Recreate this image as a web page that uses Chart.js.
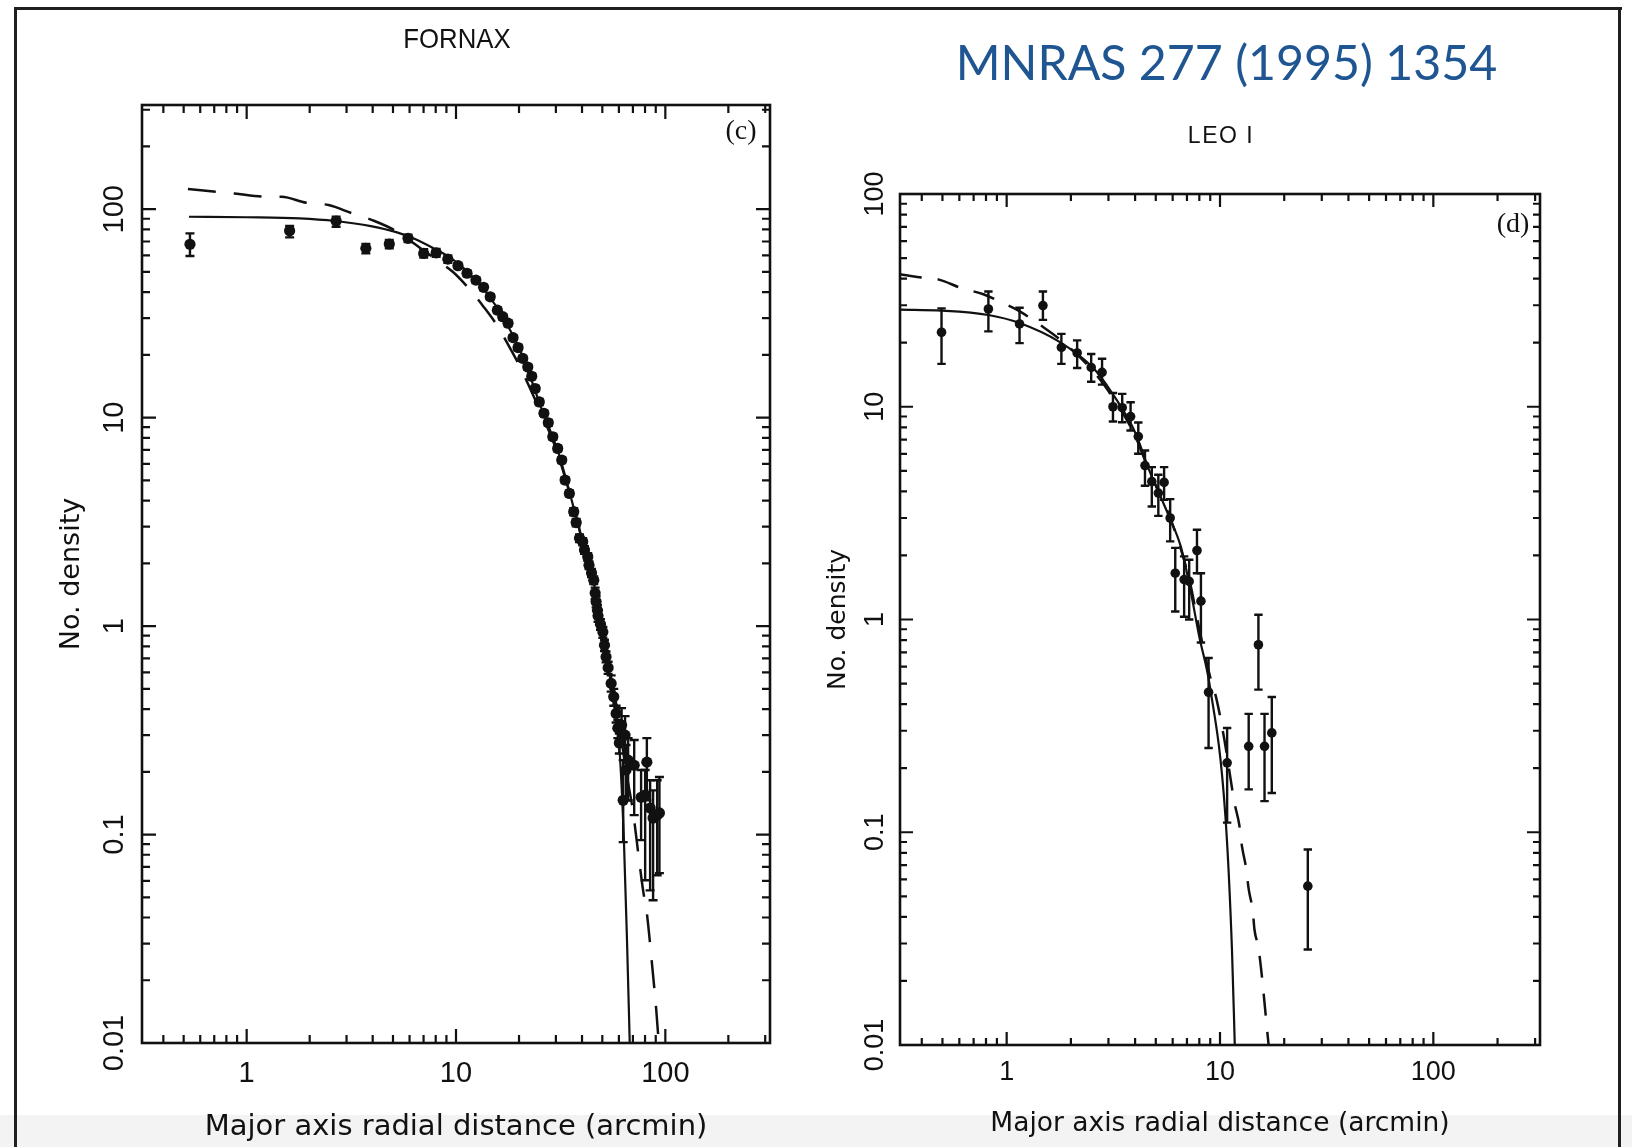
<!DOCTYPE html>
<html>
<head>
<meta charset="utf-8">
<script src="https://cdn.jsdelivr.net/npm/chart.js@4.4.1/dist/chart.umd.min.js"></script>
<style>
  html, body { margin: 0; padding: 0; background: #ffffff; }
  #page { position: relative; width: 1632px; height: 1147px; overflow: hidden; background: #ffffff; }
  #band { position: absolute; left: 0; top: 1115px; width: 1632px; height: 32px; background: #f3f3f3; }
  .fr { position: absolute; background: #202020; }
  canvas { position: absolute; top: 0; }
</style>
</head>
<body>
<div id="page">
  <div id="band"></div>
  <div class="fr" style="left:14px;top:7px;width:1608px;height:3px;"></div>
  <div class="fr" style="left:14px;top:7px;width:3px;height:1140px;"></div>
  <div class="fr" style="left:1618px;top:7px;width:3px;height:1140px;"></div>
  <canvas id="cF" width="816" height="1147" style="left:0px;width:816px;height:1147px;"></canvas>
  <canvas id="cL" width="816" height="1147" style="left:816px;width:816px;height:1147px;"></canvas>
</div>
<script>
// ---------------- DATA ----------------
// FORNAX (panel c): radius (arcmin), number density, error bar low/high
const fornaxR  = [0.536, 1.604, 2.675, 3.71, 4.80, 5.90, 7.01, 8.04, 9.14,
  10.22, 11.29, 12.45, 13.54, 14.57, 15.76, 16.72, 17.73, 18.73, 19.79, 20.84, 22.02, 23.0, 23.9, 25.0,
  26.3, 27.6, 29.0, 30.6, 32.0, 33.2, 34.8, 36.5, 37.5, 38.9, 40.3, 41.1, 42.6, 43.2, 44.4, 45.5,
  46.2, 46.7, 47.4, 47.7, 49.0, 50.3, 51.2, 52.1, 53.3, 55.1, 56.7, 58.2, 59.3, 60.3,
  61.8, 64.2, 62.9, 64.9, 66.4, 71.0, 76.6, 80.1, 81.6, 84.6, 87.4, 91.4, 93.7];
const fornaxD  = [67.9, 78.8, 87.8, 64.9, 68.1, 72.5, 61.4, 61.8, 57.6,
  53.6, 49.3, 45.7, 42.2, 38.0, 32.8, 30.5, 28.4, 24.2, 21.7, 19.25, 17.5, 15.8, 13.8, 11.9,
  10.5, 9.45, 8.1, 7.12, 6.26, 5.02, 4.33, 3.54, 3.14, 2.64, 2.54, 2.32, 2.15, 1.96, 1.80, 1.66,
  1.44, 1.31, 1.19, 1.12, 1.02, 0.936, 0.81, 0.712, 0.632, 0.531, 0.458, 0.381, 0.324, 0.275,
  0.335, 0.300, 0.146, 0.204, 0.2275, 0.215, 0.151, 0.1545, 0.2225, 0.134, 0.120, 0.124, 0.127];
const fornaxLo = [59.6, 73.3, 82.4, 61.4, 65.0, 69.5, 58.6, 59.2, 55.3,
  52.0, 47.8, 44.3, 40.9, 36.9, 31.8, 29.6, 27.5, 23.5, 21.0, 18.7, 17.0, 15.3, 13.4, 11.5,
  10.2, 9.15, 7.85, 6.9, 6.06, 4.86, 4.19, 3.40, 3.01, 2.53, 2.44, 2.22, 2.06, 1.88, 1.72, 1.59,
  1.35, 1.23, 1.12, 1.05, 0.96, 0.88, 0.76, 0.67, 0.59, 0.485, 0.415, 0.345, 0.29, 0.245,
  0.269, 0.2275, 0.092, 0.146, 0.146, 0.124, 0.094, 0.0604, 0.146, 0.054, 0.0484, 0.0638, 0.0653];
const fornaxHi = [76.6, 83.1, 92.1, 68.1, 71.3, 75.5, 64.3, 64.4, 60.0,
  55.2, 50.8, 47.1, 43.5, 39.1, 33.8, 31.4, 29.3, 24.9, 22.4, 19.8, 18.0, 16.3, 14.2, 12.3,
  10.8, 9.75, 8.35, 7.35, 6.46, 5.18, 4.47, 3.68, 3.27, 2.75, 2.64, 2.42, 2.24, 2.04, 1.88, 1.73,
  1.53, 1.39, 1.26, 1.19, 1.08, 0.99, 0.86, 0.755, 0.675, 0.58, 0.50, 0.415, 0.355, 0.305,
  0.404, 0.370, 0.2275, 0.269, 0.290, 0.284, 0.204, 0.204, 0.290, 0.1823, 0.163, 0.1823, 0.189];
// FORNAX model curves
const fornaxKingR = [0.53, 1.0, 1.79, 2.65, 3.92, 5.27, 6.41, 7.81, 9.5, 11.57, 14.07, 17.1, 20.85,
  25.4, 30.9, 35.0, 40.0, 45.0, 50.0, 55.0, 58.0, 60.5, 63.4, 65.6, 67.6];
const fornaxKingD = [92, 91.5, 90.4, 87.8, 83.0, 77.2, 71.7, 64.9, 58.1, 49.3, 39.5, 29.4, 19.6,
  11.3, 6.74, 4.33, 2.6, 1.7, 0.98, 0.53, 0.36, 0.25, 0.094, 0.031, 0.01];
const fornaxDashR = [0.524, 0.876, 1.207, 1.47, 1.925, 2.46, 3.19, 4.08, 5.06, 6.5, 8.0, 9.65, 11.6,
  13.56, 15.94, 17.96, 20.0, 25.0, 30.0, 35.0, 40.0, 45.0, 50.0, 55.0, 60.0, 65.0, 70.0, 75.0,
  78.3, 81.6, 86.0, 90.5, 93.0];
const fornaxDashD = [125, 119, 115, 114.8, 107.4, 104.7, 95.6, 87.8, 79.5, 67.0, 57.5, 50.1, 41.3,
  34.0, 27.1, 21.9, 17.9, 11.0, 7.1, 4.3, 2.6, 1.65, 1.0, 0.6, 0.35, 0.2, 0.13, 0.075,
  0.054, 0.042, 0.025, 0.0144, 0.01];

// LEO I (panel d)
const leoR  = [0.495, 0.821, 1.149, 1.479, 1.805, 2.14, 2.49, 2.80, 3.15, 3.48, 3.81, 4.14, 4.45,
  4.79, 5.14, 5.47, 5.84, 6.17, 6.79, 7.17, 7.80, 8.14, 8.84, 10.8, 13.63, 15.14, 16.17, 17.49, 25.8];
const leoD  = [22.4, 28.8, 24.5, 29.9, 19.0, 17.9, 15.3, 14.5, 10.0, 9.9, 8.99, 7.24, 5.29,
  4.45, 3.93, 4.41, 3.0, 1.65, 1.54, 1.51, 2.11, 1.22, 0.455, 0.212, 0.2535, 0.761, 0.2535, 0.293, 0.0558];
const leoLo = [15.9, 22.6, 19.9, 25.6, 15.9, 15.2, 13.1, 12.7, 8.52, 8.45, 7.73, 6.01, 4.25,
  3.40, 3.07, 3.65, 2.33, 1.09, 1.03, 1.0, 1.65, 0.78, 0.249, 0.111, 0.159, 0.468, 0.140, 0.153, 0.0281];
const leoHi = [29.0, 34.8, 29.2, 34.8, 22.0, 20.5, 17.7, 16.8, 11.6, 11.5, 10.5, 8.43, 6.23,
  5.2, 4.79, 5.2, 3.68, 2.17, 1.98, 1.91, 2.64, 1.65, 0.659, 0.309, 0.36, 1.053, 0.36, 0.432, 0.083];
const leoKingR = [0.316, 0.495, 0.821, 1.157, 1.753, 2.515, 3.12, 4.02, 4.65, 5.77, 6.55, 7.17,
  7.99, 8.91, 10.6, 11.38, 11.73];
const leoKingD = [28.6, 28.3, 27.0, 24.7, 20.3, 15.4, 11.6, 7.5, 5.05, 3.05, 2.2, 1.48,
  0.833, 0.503, 0.119, 0.028, 0.01];
const leoDashR = [0.316, 0.391, 0.477, 0.614, 0.778, 0.948, 1.157, 1.412, 1.8, 2.5, 3.12, 4.0, 4.65,
  5.77, 7.17, 8.0, 9.06, 9.6, 10.5, 11.7, 12.3, 12.67, 13.25, 13.63, 14.25, 14.5, 15.2, 16.9];
const leoDashD = [42.0, 40.6, 39.7, 36.1, 33.8, 30.9, 28.0, 24.5, 20.5, 15.0, 11.2, 7.3, 5.0,
  3.1, 1.55, 0.9, 0.521, 0.428, 0.27, 0.137, 0.109, 0.086, 0.068, 0.054, 0.0425, 0.035, 0.028, 0.01];

// Axis ticks and labels
const xTickValues = [1, 10, 100];
const xTickLabels = ['1', '10', '100'];
const yTickValues = [0.01, 0.1, 1, 10, 100];
const yTickLabels = ['0.01', '0.1', '1', '10', '100'];
const xAxisTitle = 'Major axis radial distance (arcmin)';
const yAxisTitle = 'No. density';

// ---------------- helpers ----------------
function pts(xs, ys) { return xs.map((x, i) => ({ x: x, y: ys[i] })); }

function minorTicks(min, max) {
  const out = [];
  for (let e = Math.floor(Math.log10(min)) - 1; e <= Math.ceil(Math.log10(max)); e++) {
    for (let m = 2; m <= 9; m++) {
      const v = m * Math.pow(10, e);
      if (v > min * 1.0001 && v < max * 0.9999) out.push(v);
    }
  }
  return out;
}

const errorBarPlugin = {
  id: 'errorBars',
  beforeDatasetsDraw(chart) {
    const ctx = chart.ctx, ys = chart.scales.y, a = chart.chartArea;
    ctx.save();
    ctx.beginPath(); ctx.rect(a.left, a.top, a.right - a.left, a.bottom - a.top); ctx.clip();
    chart.data.datasets.forEach((ds, di) => {
      if (!ds.errLo) return;
      const meta = chart.getDatasetMeta(di);
      const cap = ds.capHalf || 4;
      ctx.strokeStyle = '#111'; ctx.lineWidth = ds.errWidth || 2;
      meta.data.forEach((el, i) => {
        const x = el.x;
        const y1 = ys.getPixelForValue(ds.errLo[i]);
        const y2 = ys.getPixelForValue(ds.errHi[i]);
        ctx.beginPath();
        ctx.moveTo(x, y1); ctx.lineTo(x, y2);
        ctx.moveTo(x - cap, y1); ctx.lineTo(x + cap, y1);
        ctx.moveTo(x - cap, y2); ctx.lineTo(x + cap, y2);
        ctx.stroke();
      });
    });
    ctx.restore();
  }
};

const paperAxesPlugin = {
  id: 'paperAxes',
  afterDraw(chart, args, o) {
    const ctx = chart.ctx, a = chart.chartArea, xs = chart.scales.x, ys = chart.scales.y;
    ctx.save();
    ctx.strokeStyle = '#111'; ctx.fillStyle = '#111';
    ctx.lineWidth = o.frameWidth;
    ctx.strokeRect(a.left, a.top, a.right - a.left, a.bottom - a.top);
    ctx.lineWidth = o.tickWidth;
    const xmin = xs.min, xmax = xs.max, ymin = ys.min, ymax = ys.max;
    const drawX = (v, len) => {
      const px = xs.getPixelForValue(v);
      ctx.beginPath();
      ctx.moveTo(px, a.bottom); ctx.lineTo(px, a.bottom - len);
      ctx.moveTo(px, a.top); ctx.lineTo(px, a.top + len);
      ctx.stroke();
    };
    const drawY = (v, len) => {
      const py = ys.getPixelForValue(v);
      ctx.beginPath();
      ctx.moveTo(a.left, py); ctx.lineTo(a.left + len, py);
      ctx.moveTo(a.right, py); ctx.lineTo(a.right - len, py);
      ctx.stroke();
    };
    minorTicks(xmin, xmax).forEach(v => drawX(v, o.minorLen));
    xTickValues.forEach(v => { if (v > xmin && v < xmax) drawX(v, o.majorLen); });
    minorTicks(ymin, ymax).forEach(v => drawY(v, o.minorLen));
    yTickValues.forEach(v => { if (v > ymin * 1.0001 && v < ymax * 0.9999) drawY(v, o.majorLen); });

    // tick labels
    ctx.font = o.tickFont;
    ctx.textAlign = 'center'; ctx.textBaseline = 'alphabetic';
    xTickValues.forEach((v, i) => {
      ctx.fillText(xTickLabels[i], xs.getPixelForValue(v), a.bottom + o.xLabelBaseline);
    });
    yTickValues.forEach((v, i) => {
      const py = ys.getPixelForValue(v);
      ctx.save();
      ctx.translate(a.left - o.yLabelBaseline, py);
      ctx.rotate(-Math.PI / 2);
      ctx.fillText(yTickLabels[i], 0, 0);
      ctx.restore();
    });
    // axis titles
    ctx.font = o.titleFont;
    ctx.fillText(xAxisTitle, (a.left + a.right) / 2, o.xTitleBaseline);
    ctx.save();
    ctx.translate(o.yTitleBaseline, (a.top + a.bottom) / 2);
    ctx.rotate(-Math.PI / 2);
    ctx.font = o.yTitleFont;
    ctx.fillText(yAxisTitle, 0, 0);
    ctx.restore();
    // free texts
    (o.texts || []).forEach(t => {
      ctx.save();
      ctx.font = t.font; ctx.fillStyle = t.color || '#111';
      if (t.spacing) { try { ctx.letterSpacing = t.spacing; } catch (e) {} }
      ctx.translate(t.x, t.y);
      ctx.scale(t.sx || 1, 1);
      ctx.textAlign = 'center';
      ctx.fillText(t.text, 0, 0);
      ctx.restore();
    });
    ctx.restore();
  }
};

function makeChart(id, cfg) {
  return new Chart(document.getElementById(id), {
    type: 'scatter',
    data: {
      datasets: [
        { data: pts(cfg.kingR, cfg.kingD), showLine: true, borderColor: '#111', borderWidth: 2.2,
          pointRadius: 0, cubicInterpolationMode: 'monotone', fill: false },
        { data: pts(cfg.dashR, cfg.dashD), showLine: true, borderColor: '#111', borderWidth: 2.5,
          borderDash: cfg.dash, pointRadius: 0, cubicInterpolationMode: 'monotone', fill: false },
        { data: pts(cfg.r, cfg.d), errLo: cfg.lo, errHi: cfg.hi, capHalf: cfg.capHalf, errWidth: cfg.errWidth,
          pointRadius: cfg.pointRadius, pointBackgroundColor: '#111', pointBorderWidth: 0,
          pointBorderColor: '#111', showLine: false }
      ]
    },
    options: {
      responsive: false, animation: false, devicePixelRatio: 1, events: [],
      layout: { padding: cfg.padding },
      scales: {
        x: { type: 'logarithmic', min: cfg.xMin, max: cfg.xMax, display: false, bounds: 'data' },
        y: { type: 'logarithmic', min: cfg.yMin, max: cfg.yMax, display: false, bounds: 'data' }
      },
      plugins: {
        legend: { display: false }, tooltip: { enabled: false }, title: { display: false },
        paperAxes: cfg.axes
      }
    },
    plugins: [errorBarPlugin, paperAxesPlugin]
  });
}

makeChart('cF', {
  r: fornaxR, d: fornaxD, lo: fornaxLo, hi: fornaxHi,
  kingR: fornaxKingR, kingD: fornaxKingD, dashR: fornaxDashR, dashD: fornaxDashD,
  dash: [28, 18], pointRadius: 5.6, capHalf: 4.5, errWidth: 2.4,
  padding: { left: 142, top: 105, right: 46, bottom: 104 },
  xMin: Math.pow(10, -0.5), xMax: Math.pow(10, 2.5), yMin: 0.01, yMax: Math.pow(10, 2.5),
  axes: {
    frameWidth: 2.6, tickWidth: 2.2, majorLen: 14, minorLen: 8,
    tickFont: '29px "Liberation Sans", Arial, sans-serif',
    xLabelBaseline: 38.5, yLabelBaseline: 19,
    titleFont: '29px "DejaVu Sans", sans-serif', xTitleBaseline: 1135,
    yTitleFont: '27px "DejaVu Sans", sans-serif', yTitleBaseline: 79,
    texts: [
      { text: 'FORNAX', x: 457, y: 48, font: '28px "Liberation Sans", Arial, sans-serif', sx: 0.92 },
      { text: '(c)', x: 741, y: 139, font: '28px "Liberation Serif", "Times New Roman", serif' }
    ]
  }
});

makeChart('cL', {
  r: leoR, d: leoD, lo: leoLo, hi: leoHi,
  kingR: leoKingR, kingD: leoKingD, dashR: leoDashR, dashD: leoDashD,
  dash: [22, 16], pointRadius: 4.8, capHalf: 4.2, errWidth: 2.4,
  padding: { left: 84, top: 194, right: 92, bottom: 102 },
  xMin: Math.pow(10, -0.5), xMax: Math.pow(10, 2.5), yMin: 0.01, yMax: 100,
  axes: {
    frameWidth: 2.6, tickWidth: 2.2, majorLen: 13, minorLen: 7,
    tickFont: '27px "Liberation Sans", Arial, sans-serif',
    xLabelBaseline: 35, yLabelBaseline: 17.5,
    titleFont: '26.5px "DejaVu Sans", sans-serif', xTitleBaseline: 1131,
    yTitleFont: '25px "DejaVu Sans", sans-serif', yTitleBaseline: 845 - 816,
    texts: [
      { text: 'MNRAS 277 (1995) 1354', x: 1226.5 - 816, y: 80, font: '49px Lato, "Open Sans", sans-serif', color: '#1f5591', sx: 0.985 },
      { text: 'LEO I', x: 1221 - 816, y: 143, font: '23px "Liberation Sans", Arial, sans-serif', spacing: '1.5px' },
      { text: '(d)', x: 1513 - 816, y: 232, font: '28px "Liberation Serif", "Times New Roman", serif' }
    ]
  }
});
</script>
</body>
</html>
